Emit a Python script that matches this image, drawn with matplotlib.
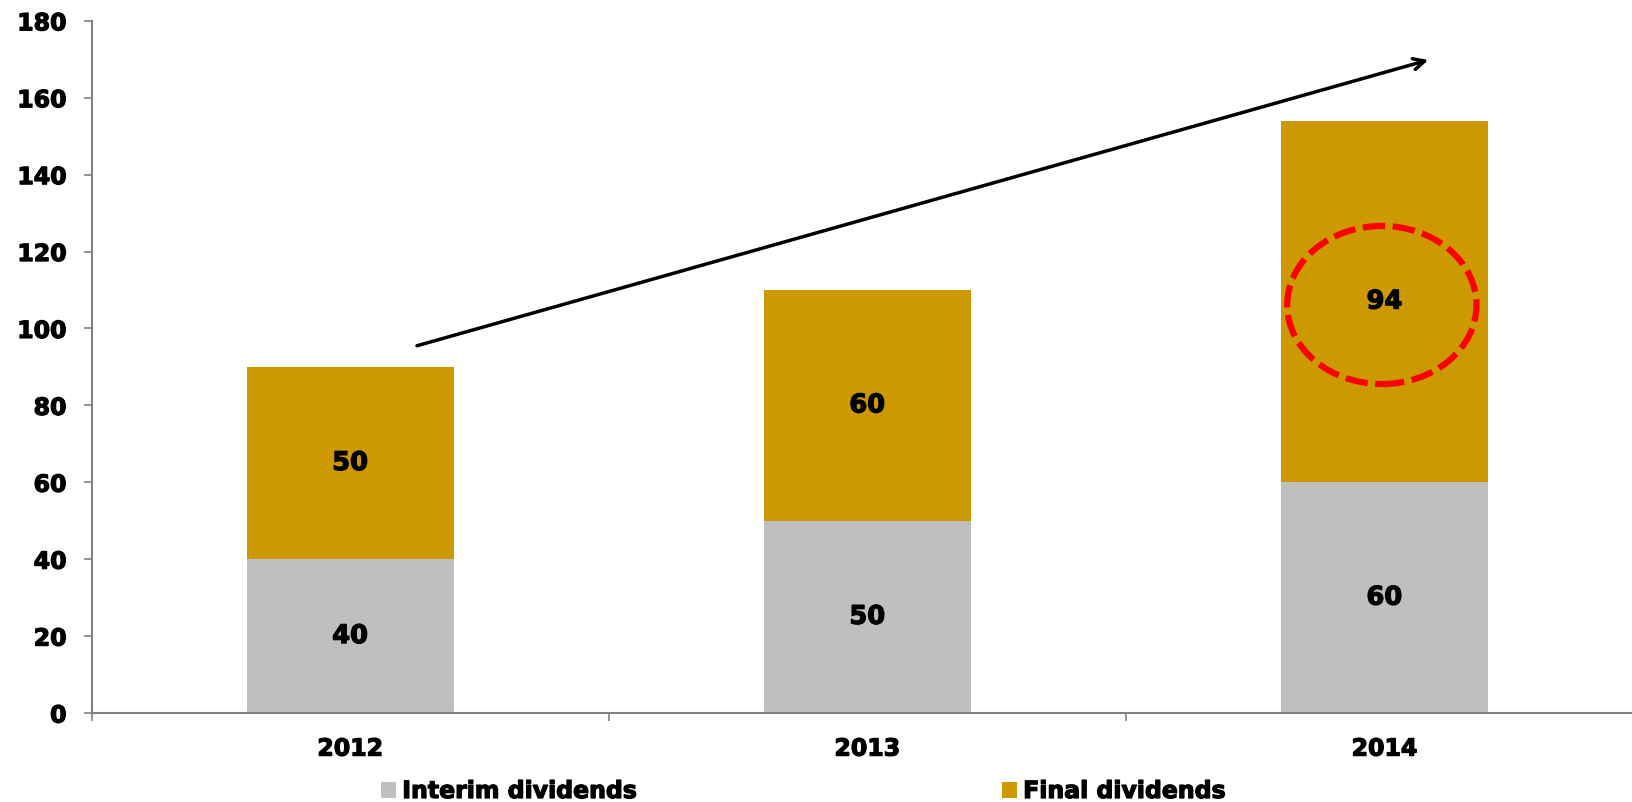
import matplotlib
matplotlib.use("Agg")
import matplotlib.pyplot as plt
from matplotlib.patches import Ellipse
import matplotlib.patheffects as pe

years = ["2012", "2013", "2014"]
interim = [40, 50, 60]
final = [50, 60, 94]
yticks = [0, 20, 40, 60, 80, 100, 120, 140, 160, 180]

plt.rcParams['font.family'] = ['DejaVu Sans']
plt.rcParams['font.weight'] = 'bold'

bold_fx = [pe.withStroke(linewidth=0.9, foreground="black")]

W, H = 1632, 802
fig = plt.figure(figsize=(W / 100, H / 100), dpi=100)
left = 91.6 / W
right = 1643 / W
bottom = (H - 713) / H
top = (H - 20.8) / H
ax = fig.add_axes([left, bottom, right - left, top - bottom])

x = list(range(len(years)))
gray = "#BFBFBF"
gold = "#CC9900"
b1 = ax.bar(x, interim, width=0.40, color=gray, label="Interim dividends", zorder=2)
b2 = ax.bar(x, final, width=0.40, bottom=interim, color=gold, label="Final dividends", zorder=2)

for i in x:
    ax.text(i, interim[i] / 2, str(interim[i]), ha="center", va="center",
            fontsize=18.5, fontweight="bold", zorder=3, path_effects=bold_fx)
    ax.text(i, interim[i] + final[i] / 2, str(final[i]), ha="center", va="center",
            fontsize=18.5, fontweight="bold", zorder=3, path_effects=bold_fx)

ax.set_xlim(-0.5, 2.5)
ax.set_ylim(0, 180)
ax.set_yticks(yticks)
ax.set_yticklabels([str(v) for v in yticks], fontsize=17, fontweight="bold")
ax.set_xticks(x)
ax.set_xticklabels(years, fontsize=17, fontweight="bold")
for lab in ax.get_xticklabels() + ax.get_yticklabels():
    lab.set_path_effects(bold_fx)
ax.set_xticks([-0.5, 0.5, 1.5, 2.5], minor=True)
ax.tick_params(axis="x", which="major", length=0, pad=17)
ax.tick_params(axis="x", which="minor", length=6, direction="out", color="#808080", width=1.2)
ax.tick_params(axis="y", which="major", length=6, direction="out", color="#808080", width=1.2, pad=12)

for s in ["top", "right"]:
    ax.spines[s].set_visible(False)
for s in ["left", "bottom"]:
    ax.spines[s].set_color("#808080")
    ax.spines[s].set_linewidth(1.5)

# growth arrow
ax.annotate("", xy=(2.09, 170), xytext=(0.124, 95.3),
            arrowprops=dict(arrowstyle="->", color="black", lw=2.5,
                            mutation_scale=20), zorder=4)

# highlight ellipse
ell = Ellipse((1.995, 106.1), width=0.366, height=41.1, fill=False,
              edgecolor="#FF0000", linewidth=4.5, linestyle=(0, (3.6, 1.2)), zorder=4)
ax.add_patch(ell)

leg = fig.legend(handles=[b1, b2], loc="center left",
                 bbox_to_anchor=(381 / W, 1 - 791 / H), ncol=2, frameon=False,
                 prop={"size": 17, "weight": "bold"},
                 handlelength=0.65, handleheight=0.65, handletextpad=0.25,
                 columnspacing=15.45, borderaxespad=0, borderpad=0)
for t in leg.get_texts():
    t.set_path_effects(bold_fx)

fig.savefig("out.png", dpi=100)
